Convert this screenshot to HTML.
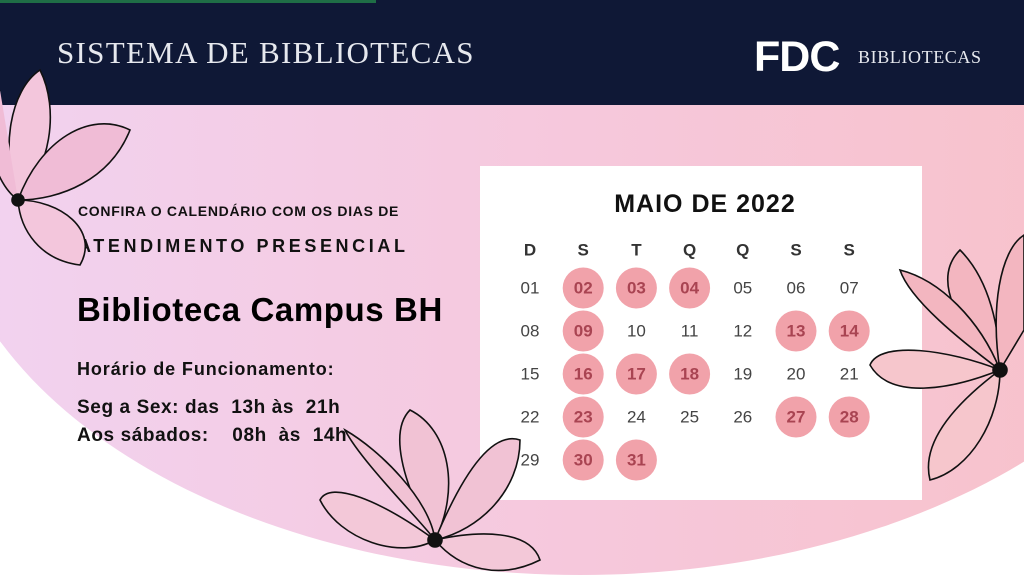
<!DOCTYPE html>
<html><head><meta charset="utf-8"><style>
body{margin:0;width:1024px;height:576px;overflow:hidden;position:relative;background:#fff;font-family:"Liberation Sans",sans-serif}
.abs{position:absolute}
#hdr{left:0;top:0;width:1024px;height:105px;background:#0f1836}
.cal{font-family:"Liberation Sans",sans-serif}
</style></head><body>
<svg class="abs" style="left:0;top:0" width="1024" height="576">
<defs><linearGradient id="g" x1="0" x2="1"><stop offset="0" stop-color="#f1d3f1"/><stop offset="0.5" stop-color="#f6c8dc"/><stop offset="1" stop-color="#f8c0c6"/></linearGradient></defs>
<ellipse cx="580" cy="170" rx="640" ry="405" fill="url(#g)"/>
</svg>
<div id="hdr" class="abs"></div>
<div class="abs" style="left:0;top:0;width:376px;height:3px;background:#1f6e46"></div>
<div class="abs" style="left:57px;top:35px;color:#e6e8ee;font-family:'Liberation Serif',serif;font-size:31px;letter-spacing:1.3px">SISTEMA DE BIBLIOTECAS</div>
<div class="abs" style="left:754px;top:36px;color:#fff;font-weight:900;font-size:43px;letter-spacing:-1px;line-height:43px">FDC</div>
<div class="abs" style="left:858px;top:47px;color:#e6e8ee;font-family:'Liberation Serif',serif;font-size:18px;letter-spacing:0.6px">BIBLIOTECAS</div>

<div class="abs" style="left:480px;top:166px;width:442px;height:334px;background:#fff"></div>

<div class="abs" style="left:78px;top:203px;font-size:14px;font-weight:bold;letter-spacing:0.7px;color:#111">CONFIRA O CALENDÁRIO COM OS DIAS DE</div>
<div class="abs" style="left:78px;top:236px;font-size:18px;font-weight:bold;letter-spacing:3.6px;color:#111">ATENDIMENTO PRESENCIAL</div>
<div class="abs" style="left:77px;top:291px;font-size:33px;font-weight:bold;color:#000;letter-spacing:0.6px">Biblioteca Campus BH</div>
<div class="abs" style="left:77px;top:359px;font-size:18px;font-weight:bold;color:#111;letter-spacing:0.9px">Horário de Funcionamento:</div>
<div class="abs" style="left:77px;top:397px;font-size:19px;font-weight:bold;color:#111;white-space:pre;letter-spacing:0.6px">Seg a Sex: das  13h às  21h</div>
<div class="abs" style="left:77px;top:425px;font-size:19px;font-weight:bold;color:#111;white-space:pre;letter-spacing:0.6px">Aos sábados:    08h  às  14h</div>

<svg id="cal" class="abs cal" style="left:0;top:0" width="1024" height="576"></svg>

<svg class="abs" style="left:0;top:0" width="1024" height="576" fill="none" stroke="#111" stroke-width="1.6">
<g>
<path d="M18 200 C0 150 10 90 40 70 C60 110 50 170 18 200Z" fill="#f3c6dc"/>
<path d="M18 200 C40 140 90 110 130 130 C110 180 60 200 18 200Z" fill="#f0bcd6"/>
<path d="M18 200 C60 200 100 230 80 265 C40 260 20 230 18 200Z" fill="#f3c6dc"/>
<path d="M18 200 C-10 180 -20 120 0 90" fill="#f0bcd6"/>
<circle cx="18" cy="200" r="6" fill="#111"/>
</g>
<g>
<path d="M435 540 C400 480 390 430 410 410 C450 430 460 490 435 540Z" fill="#f1c2d4"/>
<path d="M435 540 C460 480 490 430 520 440 C520 490 480 530 435 540Z" fill="#f1c2d4"/>
<path d="M435 540 C380 500 330 480 320 500 C340 540 400 560 435 540Z" fill="#f3c8d8"/>
<path d="M435 540 C480 530 530 530 540 560 C500 580 460 570 435 540Z" fill="#f3c8d8"/>
<path d="M435 540 C420 520 360 460 345 430 C380 450 430 500 435 540Z" fill="#f1c2d4"/>
<circle cx="435" cy="540" r="7" fill="#111"/>
</g>
<g>
<path d="M1000 370 C960 330 930 280 960 250 C990 280 1000 330 1000 370Z" fill="#f3b6c0"/>
<path d="M1000 370 C990 310 1000 250 1024 235 L1024 330Z" fill="#f3b6c0"/>
<path d="M1000 370 C950 350 880 340 870 365 C890 400 950 390 1000 370Z" fill="#f6c6cc"/>
<path d="M1000 370 C960 400 920 440 930 480 C970 470 1000 420 1000 370Z" fill="#f6c6cc"/>
<path d="M1000 370 C960 340 910 300 900 270 C940 280 980 320 1000 370Z" fill="#f3b6c0"/>
<circle cx="1000" cy="370" r="7" fill="#111"/>
</g>
</svg>

<script>
const weekdays = ['D','S','T','Q','Q','S','S'];
const days = ['01','02','03','04','05','06','07','08','09','10','11','12','13','14','15','16','17','18','19','20','21','22','23','24','25','26','27','28','29','30','31'];
const openDays = ['02','03','04','09','13','14','16','17','18','23','27','28','30','31'];
const startOffset = 0;
const NS='http://www.w3.org/2000/svg';
const svg=document.getElementById('cal');
const colX=c=>530+c*53.2;
const rowY=r=>288+r*43;
function t(x,y,s,size,weight,fill,name){const e=document.createElementNS(NS,'text');e.setAttribute('x',x);e.setAttribute('y',y);e.setAttribute('text-anchor','middle');e.setAttribute('dominant-baseline','central');e.setAttribute('font-size',size);e.setAttribute('font-weight',weight);e.setAttribute('fill',fill);e.setAttribute('font-family','Liberation Sans, sans-serif');e.textContent=s;


svg.appendChild(e);return e;}
const title=t(705,204,'MAIO DE 2022',25,'bold','#111','calendar-title');
title.setAttribute('letter-spacing','1');
weekdays.forEach((w,i)=>t(colX(i),250,w,17,'bold','#333','weekday-label'));
days.forEach((d,i)=>{const p=i+startOffset,c=p%7,r=Math.floor(p/7);const open=openDays.includes(d);
if(open){const ci=document.createElementNS(NS,'circle');ci.setAttribute('cx',colX(c));ci.setAttribute('cy',rowY(r));ci.setAttribute('r',20.5);ci.setAttribute('fill','#f1a2aa');


svg.appendChild(ci);}
t(colX(c),rowY(r),d,17,open?'bold':'normal',open?'#a94452':'#444',open?'open-day':'day');});
</script>
</body></html>
